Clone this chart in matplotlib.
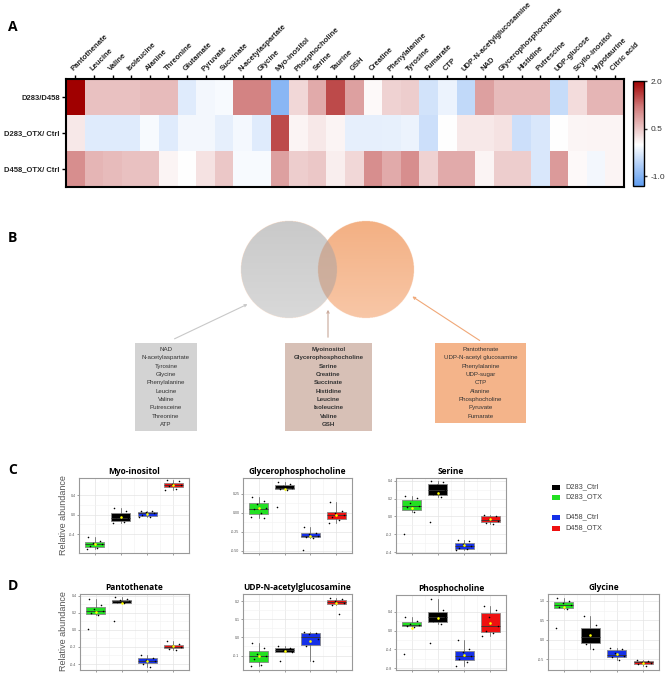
import matplotlib.pyplot as plt
import numpy as np
from matplotlib.colors import LinearSegmentedColormap, Normalize
from matplotlib.patches import Rectangle

W, H = 669, 674

plt.rcParams["font.family"] = ["Liberation Sans", "DejaVu Sans"]

# ---- panel A: heatmap data ----
metabolites = [
    "Pantothenate", "Leucine", "Valine", "Isoleucine", "Alanine", "Threonine",
    "Glutamate", "Pyruvate", "Succinate", "N-acetylaspartate", "Glycine",
    "Myo-inositol", "Phosphocholine", "Serine", "Taurine", "GSH", "Creatine",
    "Phenylalanine", "Tyrosine", "Fumarate", "CTP", "UDP-N-acetylglucosamine",
    "NAD", "Glycerophosphocholine", "Histidine", "Putrescine", "UDP-glucose",
    "Scyllo-inositol", "Hypotaurine", "Citric acid",
]
row_names = ["D283/D458", "D283_OTX/ Ctrl", "D458_OTX/ Ctrl"]
d283_vs_d458 = [2.0, 0.55, 0.55, 0.55, 0.6, 0.6, -0.25, -0.1, -0.05, 1.1, 1.1,
                -0.95, 0.35, 0.75, 1.5, 0.85, 0.05, 0.4, 0.45, -0.35, -0.15,
                -0.5, 0.85, 0.6, 0.6, 0.6, -0.45, 0.3, 0.65, 0.65]
d283_otx_ctrl = [0.2, -0.25, -0.25, -0.25, -0.05, -0.25, -0.1, -0.1, -0.2,
                 -0.08, -0.25, 1.5, 0.1, 0.2, 0.1, -0.2, -0.2, -0.18, -0.15,
                 -0.4, 0.0, 0.2, 0.2, 0.25, -0.4, -0.3, 0.0, 0.08, 0.1, 0.1]
d458_otx_ctrl = [1.0, 0.65, 0.6, 0.55, 0.55, 0.1, 0.0, 0.25, 0.5, -0.05, -0.05,
                 0.85, 0.45, 0.5, 0.15, 0.35, 1.0, 0.75, 1.0, 0.4, 0.75, 0.75,
                 0.1, 0.45, 0.45, -0.3, 0.9, 0.05, -0.1, 0.1]
cbar_ticks = [2.0, 0.5, -1.0]

# ---- panel B: venn lists ----
venn_left = ["NAD", "N-acetylaspartate", "Tyrosine", "Glycine", "Phenylalanine",
             "Leucine", "Valine", "Putresceine", "Threonine", "ATP"]
venn_mid = ["Myoinositol", "Glycerophosphocholine", "Serine", "Creatine",
            "Succinate", "Histidine", "Leucine", "Isoleucine", "Valine", "GSH"]
venn_right = ["Pantothenate", "UDP-N-acetyl glucosamine", "Phenylalanine",
              "UDP-sugar", "CTP", "Alanine", "Phosphocholine", "Pyruvate",
              "Fumarate"]

# ---- panels C/D: boxplot data (order: D283_OTX, D283_Ctrl, D458_Ctrl, D458_OTX) ----
group_colors = ["#22E022", "#000000", "#1530E8", "#EE1010"]
legend_names = ["D283_Ctrl", "D283_OTX", "D458_Ctrl", "D458_OTX"]
legend_colors = ["#000000", "#22E022", "#1530E8", "#EE1010"]

myo = [[-0.46, -0.55, -0.58, -0.6, -0.64, -0.68, -0.71],
       [0.13, 0.07, 0.0, -0.07, -0.1, -0.15, -0.17],
       [0.08, 0.07, 0.05, 0.04, 0.0, -0.05, -0.05],
       [0.7, 0.68, 0.62, 0.6, 0.58, 0.53, 0.5]]
gpc = [[0.21, 0.16, 0.12, 0.06, 0.05, 0.0, -0.06, -0.07],
       [0.41, 0.38, 0.35, 0.33, 0.32, 0.3, 0.08],
       [-0.19, -0.26, -0.28, -0.3, -0.32, -0.33, -0.49],
       [0.14, 0.02, 0.0, -0.03, -0.06, -0.1, -0.13]]
serine = [[0.23, 0.21, 0.15, 0.12, 0.1, 0.05, -0.2],
          [0.4, 0.38, 0.35, 0.3, 0.25, 0.22, -0.06],
          [-0.26, -0.28, -0.31, -0.33, -0.35, -0.37, -0.38],
          [0.02, 0.01, -0.03, -0.05, -0.07, -0.08]]
panto = [[0.36, 0.29, 0.25, 0.22, 0.2, 0.17, 0.01],
         [0.38, 0.36, 0.35, 0.34, 0.33, 0.31, 0.1],
         [-0.29, -0.33, -0.35, -0.37, -0.4, -0.43],
         [-0.13, -0.17, -0.19, -0.2, -0.22, -0.23]]
udpnag = [[-0.03, -0.06, -0.09, -0.1, -0.12, -0.15, -0.16],
          [-0.045, -0.06, -0.07, -0.08, -0.13],
          [0.03, 0.025, 0.02, -0.01, -0.05, -0.13],
          [0.22, 0.21, 0.2, 0.19, 0.18, 0.13]]
phos = [[0.3, 0.2, 0.15, 0.12, 0.1, 0.08, -0.49],
        [0.68, 0.45, 0.36, 0.3, 0.2, 0.15, -0.27],
        [-0.2, -0.4, -0.45, -0.55, -0.6, -0.67, -0.75],
        [0.52, 0.45, 0.3, 0.1, 0.0, -0.05, -0.12]]
glycine = [[1.07, 1.0, 0.95, 0.9, 0.85, 0.8, 0.3],
           [0.6, 0.37, 0.15, 0.0, -0.1, -0.25],
           [-0.2, -0.25, -0.35, -0.43, -0.45, -0.52],
           [-0.52, -0.55, -0.57, -0.6, -0.63, -0.68]]


def px_axes(fig, x0, y0, x1, y1):
    return fig.add_axes([x0 / W, 1 - y1 / H, (x1 - x0) / W, (y1 - y0) / H])


def box_panel(ax, title, data, ticks, ylim, fmt):
    bp = ax.boxplot(data, positions=[1, 2, 3, 4], widths=0.72, patch_artist=True,
                    showfliers=False, showcaps=False,
                    medianprops=dict(color="#333333", lw=0.6),
                    boxprops=dict(edgecolor="#888888", lw=0.6),
                    whiskerprops=dict(color="#555555", lw=0.5))
    for patch, c in zip(bp["boxes"], group_colors):
        patch.set_facecolor(c)
    jitter = [-0.25, 0.2, -0.05, 0.28, -0.18, 0.1, -0.3, 0.22]
    for i, vals in enumerate(data):
        xs = [i + 1 + jitter[k] for k in range(len(vals))]
        ax.scatter(xs, vals, s=1.3, c="black", lw=0, zorder=3)
        ax.scatter([i + 1], [np.mean(vals)], s=3.5, c="#FFFF00", lw=0, zorder=4)
    ax.set_xlim(0.4, 4.6)
    ax.set_ylim(*ylim)
    ax.set_xticks([1, 2, 3, 4])
    ax.set_xticklabels([])
    ax.set_yticks(ticks)
    ax.set_yticklabels([fmt.format(t) for t in ticks])
    ax.set_xticks([1.5, 2.5, 3.5], minor=True)
    mids = [(a + b) / 2 for a, b in zip(ticks[:-1], ticks[1:])]
    ax.set_yticks(mids, minor=True)
    ax.tick_params(which="major", length=1.5, width=0.4, labelsize=2.6,
                   colors="#555555", pad=1)
    ax.tick_params(which="minor", length=0)
    ax.grid(True, which="major", color="#E4E4E4", lw=0.5)
    ax.grid(True, which="minor", color="#F2F2F2", lw=0.4)
    ax.set_axisbelow(True)
    for s in ax.spines.values():
        s.set_color("#999999")
        s.set_linewidth(0.8)
    ax.set_title(title, fontsize=6, fontweight="bold", pad=3,
                 family=["Open Sans", "DejaVu Sans"])


fig = plt.figure(figsize=(W / 100, H / 100), dpi=100)

# overlay in pixel coords for labels, venn boxes, arrows and legend
ov = fig.add_axes([0, 0, 1, 1])
ov.axis("off")

for lab, (x, y) in zip("ABCD", [(8, 27), (8, 238), (8, 470), (8, 586)]):
    ov.text(x, y, lab, fontsize=10, fontweight="bold", va="center",
            family=["Open Sans", "DejaVu Sans"])

# ---- A: heatmap ----
cmap = LinearSegmentedColormap.from_list(
    "rwb", [(0.0, "#5E9CF0"), (0.394, "#FFFFFF"), (0.76, "#D07878"), (1.0, "#A00000")])
norm = Normalize(vmin=-1.3, vmax=2.0)
mat = np.array([d283_vs_d458, d283_otx_ctrl, d458_otx_ctrl])

axh = px_axes(fig, 66, 79, 624, 187)
im = axh.imshow(mat, cmap=cmap, norm=norm, aspect="auto")
axh.xaxis.tick_top()
axh.set_xticks(range(len(metabolites)))
axh.set_xticklabels(metabolites, rotation=45, ha="left", va="bottom",
                    rotation_mode="anchor", fontsize=5.5, fontweight="bold",
                    color="#222222")
axh.set_yticks(range(len(row_names)))
axh.set_yticklabels(row_names, fontsize=5.5, fontweight="bold", color="#222222")
axh.tick_params(length=3, width=1, pad=1.5)
for s in axh.spines.values():
    s.set_linewidth(1.5)

cax = px_axes(fig, 633, 81, 644, 186)
cb = fig.colorbar(im, cax=cax, ticks=cbar_ticks)
cb.ax.set_yticklabels(["2.0", "0.5", "-1.0"])
cb.ax.tick_params(labelsize=6, length=2.5, width=1, pad=2, colors="#333333")
cb.outline.set_linewidth(1)

# ---- B: venn, drawn as one masked gradient image ----
r = 48
cl, cr, cy = 289, 366, 270
vx0, vy0, vx1, vy1 = cl - r - 2, cy - r - 2, cr + r + 2, cy + r + 2
va = px_axes(fig, vx0, vy0, vx1, vy1)
va.axis("off")
ny, nx = int((vy1 - vy0) * 3), int((vx1 - vx0) * 3)
yy, xx = np.mgrid[0:ny, 0:nx]
gx = vx0 + (xx + 0.5) / 3
gy = vy0 + (yy + 0.5) / 3
t = ((gy - (cy - r)) / (2 * r)).clip(0, 1)[..., None]
gray = np.array([0.79, 0.79, 0.79]) * (1 - t) + np.array([0.85, 0.85, 0.85]) * t
orange = np.array([0.953, 0.69, 0.514]) * (1 - t) + np.array([0.973, 0.78, 0.655]) * t
both = np.array([0.79, 0.665, 0.595]) * (1 - t) + np.array([0.82, 0.70, 0.63]) * t
L = ((gx - cl) ** 2 + (gy - cy) ** 2 <= r ** 2)[..., None]
R = ((gx - cr) ** 2 + (gy - cy) ** 2 <= r ** 2)[..., None]
rgb = np.where(L & R, both, np.where(L, gray, orange))
alpha = (L | R).astype(float)
va.imshow(np.concatenate([rgb, alpha], axis=2), aspect="auto",
          interpolation="antialiased")

ov.annotate("", xy=(250, 303), xytext=(172, 340),
            arrowprops=dict(arrowstyle="->", color="#C8C8C8", lw=0.8,
                            mutation_scale=4))
ov.annotate("", xy=(328, 307), xytext=(328, 340),
            arrowprops=dict(arrowstyle="->", color="#C9A89A", lw=0.8,
                            mutation_scale=4))
ov.annotate("", xy=(410, 295), xytext=(482, 342),
            arrowprops=dict(arrowstyle="->", color="#F0A878", lw=0.8,
                            mutation_scale=4))

boxes = [(135, 197, 431, "#D3D3D3", venn_left, "normal"),
         (285, 372, 431, "#D7C0B6", venn_mid, "bold"),
         (435, 526, 423, "#F4B48A", venn_right, "normal")]
for x0, x1, y1, fc, names, fw in boxes:
    ov.add_patch(Rectangle((x0, 343), x1 - x0, y1 - 343, fc=fc, ec="none"))
    for i, name in enumerate(names):
        ov.text((x0 + x1) / 2, 349.5 + i * 8.35, name, ha="center", va="center",
                fontsize=4.4, fontweight=fw, color="#333333")

# legend for C/D
for name, c, y in zip(legend_names, legend_colors, [487, 497, 517, 528]):
    ov.add_patch(Rectangle((552, y - 2.5), 8, 5, fc=c, ec="none"))
    ov.text(565, y, name, fontsize=5.3, va="center", color="#444444")

for y in (515, 631):
    ov.text(63, y, "Relative abundance", rotation=90, ha="center", va="center",
            fontsize=6.5, color="#555555")

ov.set_xlim(0, W)
ov.set_ylim(H, 0)

# ---- C/D: boxplots ----
ax = px_axes(fig, 79, 478, 189, 553)
box_panel(ax, "Myo-inositol", myo, [-0.4, 0.0, 0.4], (-0.79, 0.75), "{:.1f}")
ax = px_axes(fig, 243, 478, 352, 553)
box_panel(ax, "Glycerophosphocholine", gpc, [-0.5, -0.25, 0.0, 0.25],
          (-0.53, 0.46), "{:.2f}")
ax = px_axes(fig, 396, 478, 506, 553)
box_panel(ax, "Serine", serine, [-0.4, -0.2, 0.0, 0.2, 0.4], (-0.41, 0.43),
          "{:.1f}")

ax = px_axes(fig, 80, 594, 189, 670)
box_panel(ax, "Pantothenate", panto, [-0.4, -0.2, 0.0, 0.2, 0.4], (-0.47, 0.42),
          "{:.1f}")
ax = px_axes(fig, 243, 594, 352, 670)
box_panel(ax, "UDP-N-acetylglucosamine", udpnag, [-0.1, 0.0, 0.1, 0.2],
          (-0.18, 0.24), "{:.1f}")
ax = px_axes(fig, 396, 595, 506, 670)
box_panel(ax, "Phosphocholine", phos, [-0.8, -0.4, 0.0, 0.4], (-0.84, 0.76),
          "{:.1f}")
ax = px_axes(fig, 548, 594, 659, 670)
box_panel(ax, "Glycine", glycine, [-0.5, 0.0, 0.5, 1.0], (-0.78, 1.18), "{:.1f}")

fig.savefig("out.png", dpi=100)
